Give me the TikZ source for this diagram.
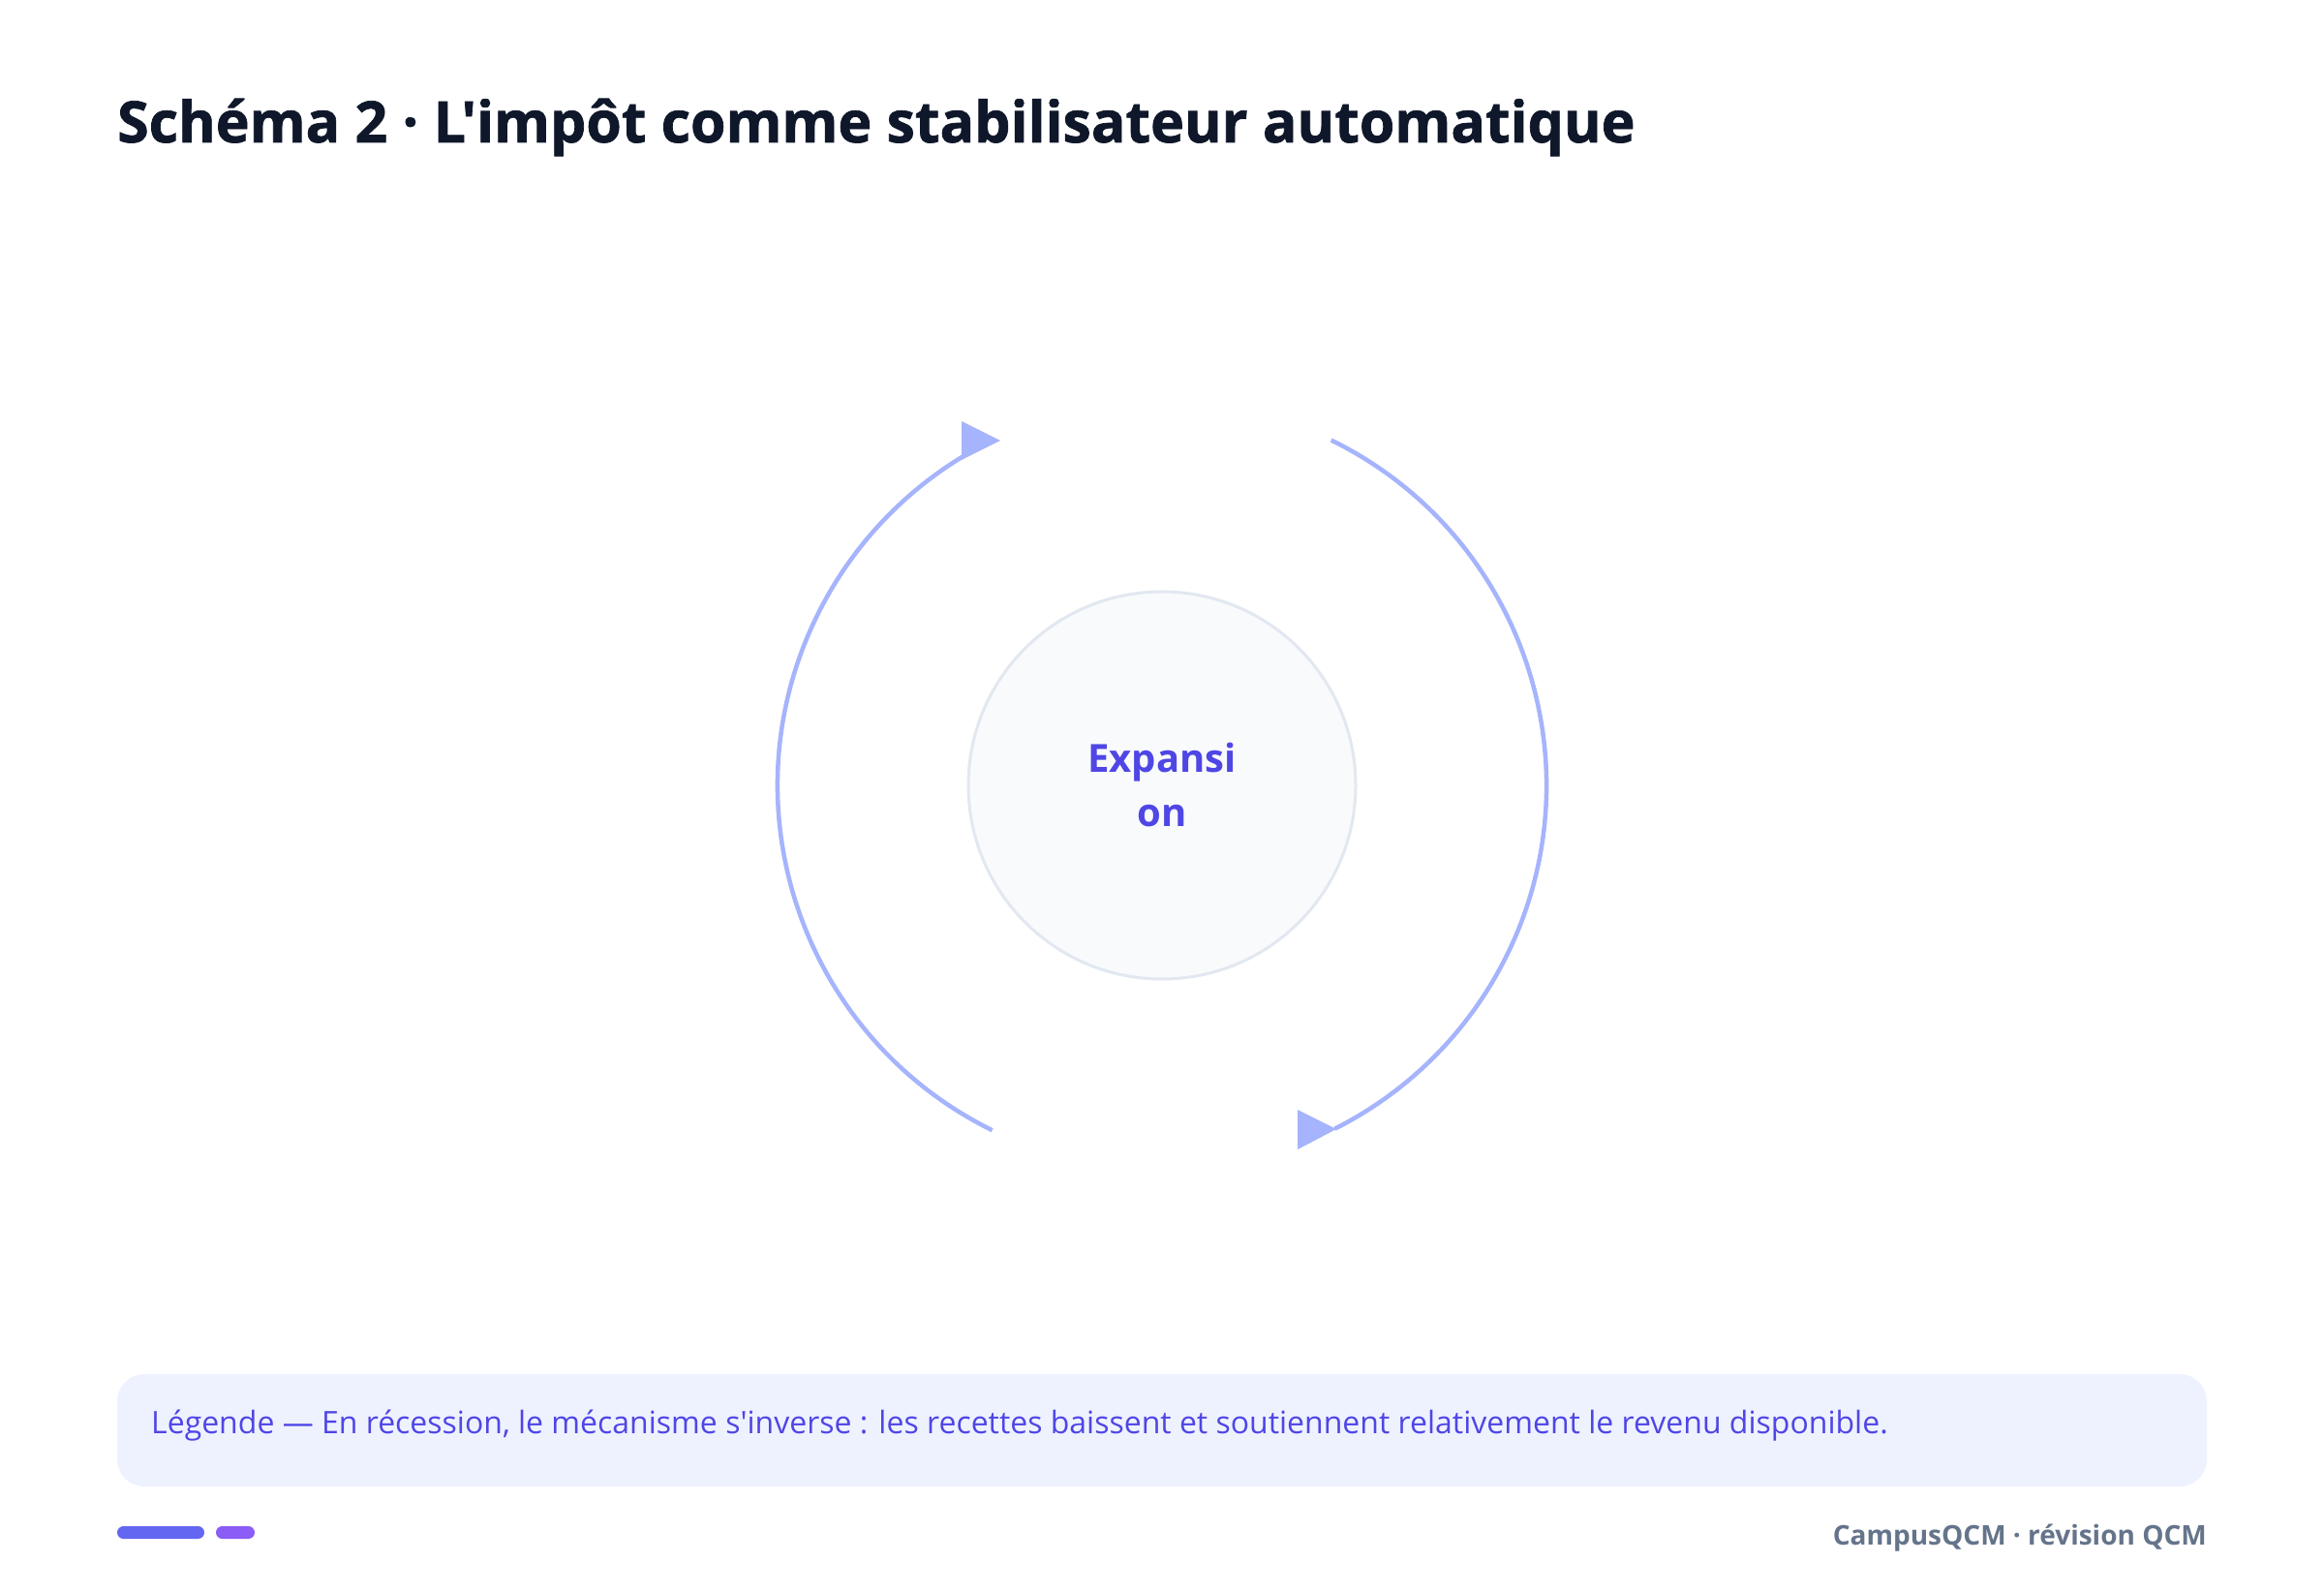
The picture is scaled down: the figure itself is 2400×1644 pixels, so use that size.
\documentclass[tikz,border=0pt]{standalone}
\usepackage{fontspec}
\setmainfont{Open Sans}[Ligatures=TeXOff]
\newfontfamily\titlefont{Open Sans}[Ligatures=TeXOff, BoldFeatures={FakeBold=1.2}]
\usetikzlibrary{calc}
\definecolor{arcc}{HTML}{A5B4FC}
\definecolor{inkc}{HTML}{4F46E5}
\definecolor{titlec}{HTML}{0F172A}
\definecolor{circfill}{HTML}{F8FAFC}
\definecolor{circline}{HTML}{E2E8F0}
\definecolor{legfill}{HTML}{EEF2FF}
\definecolor{footc}{HTML}{64748B}
\definecolor{barA}{HTML}{6366F1}
\definecolor{barB}{HTML}{8B5CF6}
\tikzset{
  cyclearc/.style={draw=arcc, line width=4.5pt},
  tiptri/.style={fill=arcc, draw=none},
  statecirc/.style={circle, fill=circfill, draw=circline, line width=3pt, minimum size=400pt, inner sep=0pt},
  statetext/.style={text=inkc, font=\fontsize{40}{56}\selectfont\bfseries, align=center},
}
\begin{document}
\begin{tikzpicture}[x=1pt,y=1pt]
\useasboundingbox (0,0) rectangle (2400,1644);
\fill[white] (0,0) rectangle (2400,1644);
% title
\node[anchor=base west, inner sep=0pt, text=titlec, font=\fontsize{59}{70}\titlefont\bfseries] (title) at (121,1497) {Schéma 2 · L'impôt comme stabilisateur automatique};
% centre circle
\node[statecirc] (state) at (1200,833) {};
\node[statetext] (statelbl) at (1200,833) {Expansi\\on};
% arcs
\coordinate (Lstart) at ($(1200,833)+(243.8:397)$);
\coordinate (Rstart) at ($(1200,833)+(63.9:397)$);
\draw[cyclearc] (Lstart) arc[start angle=243.8, end angle=118, radius=397];
\draw[cyclearc] (Rstart) arc[start angle=63.9, end angle=-63.3, radius=397];
\fill[tiptri] (993,1209) -- (1033,1189) -- (993,1169) -- cycle;
\fill[tiptri] (1340,498) -- (1380,478) -- (1340,457) -- cycle;
% legend
\node[fill=legfill, rounded corners=28pt, minimum width=2158pt, minimum height=116pt, inner sep=0pt] (legbox) at (1200,167) {};
\node[anchor=base west, inner sep=0pt, text=inkc, font=\fontsize{32}{40}\selectfont] (legtxt) at (156,164) {Légende — En récession, le mécanisme s'inverse : les recettes baissent et soutiennent relativement le revenu disponible.};
% footer
\fill[barA, rounded corners=6.5pt] (121,55) rectangle (211,68);
\fill[barB, rounded corners=6.5pt] (223,55) rectangle (263,68);
\node[anchor=base east, inner sep=0pt, text=footc, font=\fontsize{28}{34}\selectfont\bfseries] (foot) at (2279,49) {CampusQCM · révision QCM};
\end{tikzpicture}
\end{document}
